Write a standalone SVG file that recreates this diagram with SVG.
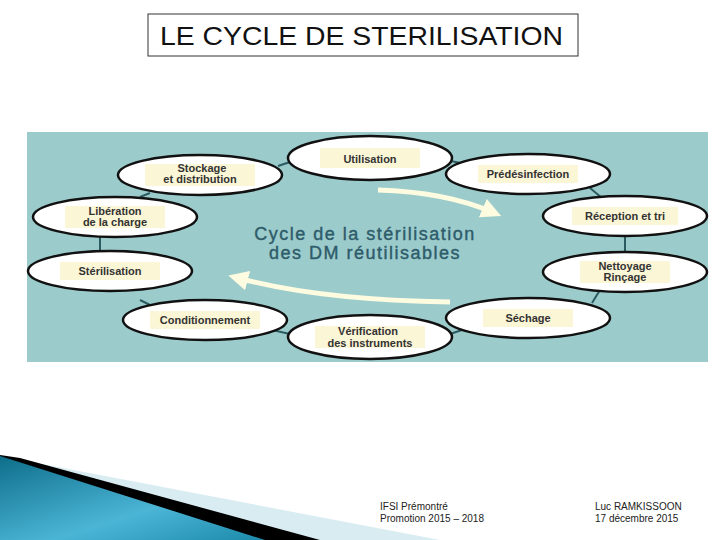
<svg xmlns="http://www.w3.org/2000/svg" width="720" height="540" viewBox="0 0 720 540">
<defs>
<style>
.n ellipse{fill:#fff;stroke:#111;stroke-width:2.5}
.n rect{fill:#fbf6d6}
.n text{font-family:"Liberation Sans",Arial,sans-serif;font-weight:bold;font-size:11px;fill:#333;text-anchor:middle}
.c line{stroke:#2b5b60;stroke-width:2}
.ft{font-family:"Liberation Sans",Arial,sans-serif;font-size:10px;fill:#222}
</style>
<linearGradient id="sw" x1="0" y1="0" x2="1" y2="1"><stop offset="0" stop-color="#0e6e8a"/><stop offset="0.6" stop-color="#4bb5d6"/><stop offset="1" stop-color="#1d8aaa"/></linearGradient>
<marker id="ah" viewBox="0 0 10 10" refX="5" refY="5" markerWidth="4" markerHeight="4" orient="auto"><path d="M0,0L10,5L0,10z" fill="#fdfbe0"/></marker>
</defs>
<rect width="720" height="540" fill="#fff"/>
<rect x="148" y="14" width="430" height="42" fill="#fff" stroke="#333"/>
<text x="160" y="45" font-family="Liberation Sans,Arial,sans-serif" font-size="25" textLength="403" lengthAdjust="spacingAndGlyphs" fill="#111">LE CYCLE DE STERILISATION</text>
<rect x="27" y="132" width="681" height="230" fill="#9ccbcc"/>
<text x="365" y="240" font-family="Liberation Sans,Arial,sans-serif" font-size="18" text-anchor="middle" fill="#2e5c6a" letter-spacing="1.5" stroke="#2e5c6a" stroke-width="0.4">Cycle de la stérilisation</text>
<text x="365" y="259" font-family="Liberation Sans,Arial,sans-serif" font-size="18" text-anchor="middle" fill="#2e5c6a" letter-spacing="1.5" stroke="#2e5c6a" stroke-width="0.4">des DM réutilisables</text>
<g id="arrows" fill="none" stroke="#fdfbe0" stroke-width="5">
<path d="M378,190 Q445,192 492,212" marker-end="url(#ah)"/>
<path d="M450,302 Q320,300 238,278" marker-end="url(#ah)"/>
</g>
<g class="c">
<line x1="446" y1="160" x2="470" y2="165"/><line x1="590" y1="188" x2="602" y2="198"/>
<line x1="625" y1="236" x2="625" y2="252"/><line x1="600" y1="290" x2="592" y2="303"/>
<line x1="462" y1="330" x2="450" y2="334"/><line x1="290" y1="334" x2="272" y2="330"/>
<line x1="140" y1="300" x2="150" y2="305"/><line x1="100" y1="237" x2="100" y2="251"/>
<line x1="140" y1="197" x2="150" y2="193"/><line x1="278" y1="166" x2="290" y2="162"/>
</g>
<g id="n1" class="n"><ellipse cx="370" cy="158" rx="82" ry="22"/><rect x="320" y="148" width="100" height="20"/><text x="370" y="163" font-size="14">Utilisation</text></g>
<g id="n2" class="n"><ellipse cx="528" cy="174" rx="82" ry="20"/><rect x="478" y="165" width="100" height="18"/><text x="528" y="178">Prédésinfection</text></g>
<g id="n3" class="n"><ellipse cx="625" cy="216" rx="82" ry="20"/><rect x="572" y="207" width="106" height="18"/><text x="625" y="220">Réception et tri</text></g>
<g id="n4" class="n"><ellipse cx="625" cy="272" rx="82" ry="20"/><rect x="580" y="261" width="90" height="22"/><text x="625" y="270">Nettoyage</text><text x="625" y="281">Rinçage</text></g>
<g id="n5" class="n"><ellipse cx="528" cy="318" rx="82" ry="20"/><rect x="483" y="309" width="90" height="18"/><text x="528" y="322">Séchage</text></g>
<g id="n6" class="n"><ellipse cx="370" cy="337" rx="82" ry="22"/><rect x="315" y="326" width="110" height="22"/><text x="368" y="335">Vérification</text><text x="370" y="347">des instruments</text></g>
<g id="n7" class="n"><ellipse cx="205" cy="320" rx="82" ry="20"/><rect x="150" y="311" width="110" height="18"/><text x="205" y="324">Conditionnement</text></g>
<g id="n8" class="n"><ellipse cx="110" cy="271" rx="82" ry="20"/><rect x="60" y="262" width="100" height="18"/><text x="110" y="275">Stérilisation</text></g>
<g id="n9" class="n"><ellipse cx="115" cy="217" rx="82" ry="20"/><rect x="65" y="206" width="100" height="22"/><text x="115" y="215">Libération</text><text x="115" y="226">de la charge</text></g>
<g id="n10" class="n"><ellipse cx="200" cy="175" rx="82" ry="20"/><rect x="145" y="164" width="110" height="22"/><text x="202" y="172">Stockage</text><text x="200" y="183">et distribution</text></g>
<g id="footer">
<polygon points="0,456 440,540 0,540" fill="#d9ecf2"/>
<polygon points="0,455 20,458 320,540 0,540" fill="#000"/>
<polygon points="0,456 265,540 0,540" fill="url(#sw)"/>
<text class="ft" x="380" y="510">IFSI Prémontré</text>
<text class="ft" x="380" y="522">Promotion 2015 – 2018</text>
<text class="ft" x="595" y="510">Luc RAMKISSOON</text>
<text class="ft" x="595" y="522">17 décembre 2015</text>
</g>
</svg>
